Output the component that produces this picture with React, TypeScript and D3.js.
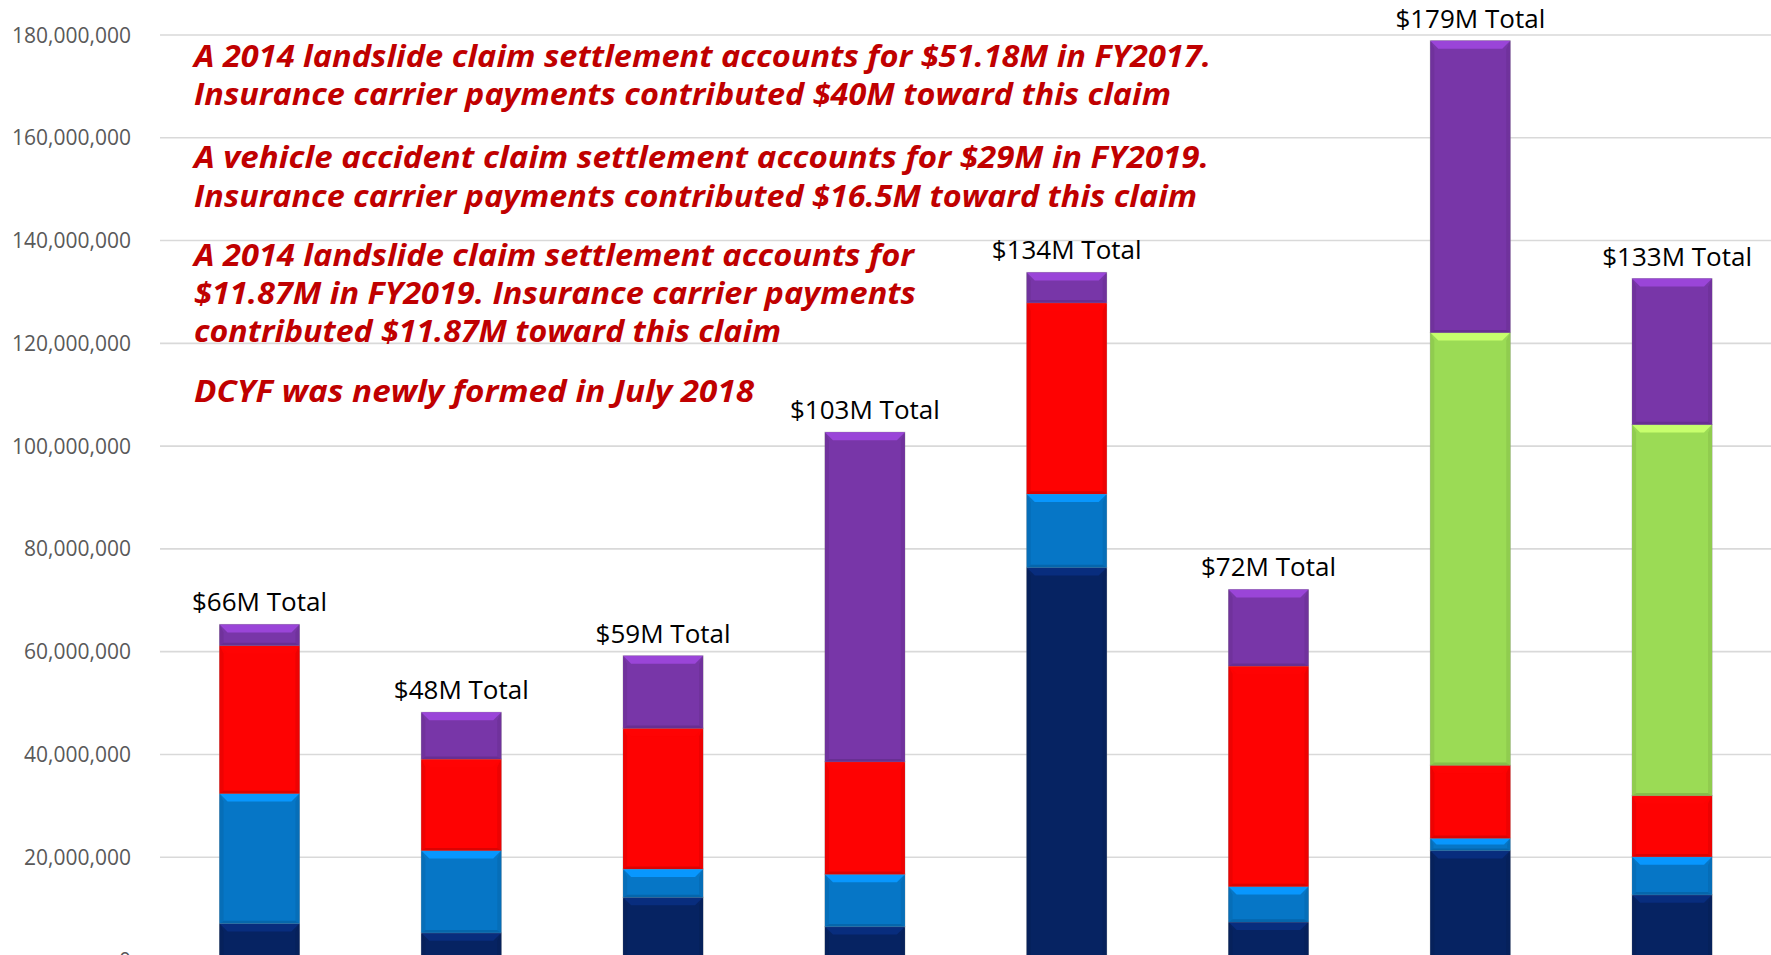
import React from "react";
import * as d3 from "d3";

const categories = ["FY2013", "FY2014", "FY2015", "FY2016", "FY2017", "FY2018", "FY2019", "FY2020"];
const seriesKeys = ["s1", "s2", "s3", "s4", "s5"];
const seriesColors = ["#062362", "#0676C6", "#FE0202", "#9BDB55", "#7836A8"];
// values in millions of dollars, stacked bottom to top
const s1Values = [7.1, 5.3, 12.2, 6.5, 76.4, 7.4, 21.3, 12.7];
const s2Values = [25.3, 16.0, 5.5, 10.2, 14.3, 6.9, 2.4, 7.4];
const s3Values = [28.8, 17.8, 27.4, 21.9, 37.2, 42.9, 14.2, 11.9];
const s4Values = [0, 0, 0, 0, 0, 0, 84.2, 72.2];
const s5Values = [4.1, 9.1, 14.1, 64.1, 5.9, 14.9, 56.8, 28.4];
const totalLabels = ["$66M Total", "$48M Total", "$59M Total", "$103M Total", "$134M Total", "$72M Total", "$179M Total", "$133M Total"];
const yTicks = [0, 20e6, 40e6, 60e6, 80e6, 100e6, 120e6, 140e6, 160e6, 180e6];
const noteLines = [
  "A 2014 landslide claim settlement accounts for $51.18M in FY2017.",
  "Insurance carrier payments contributed $40M toward this claim",
  "A vehicle accident claim settlement accounts for $29M in FY2019.",
  "Insurance carrier payments contributed $16.5M toward this claim",
  "A 2014 landslide claim settlement accounts for",
  "$11.87M in FY2019. Insurance carrier payments",
  "contributed $11.87M toward this claim",
  "DCYF was newly formed in July 2018",
];
const noteBaselines = [67, 105, 168, 207, 266, 304, 342, 402];
const noteWidths = [1017, 977, 1015, 1003, 720, 722, 587, 560];

const W = 1771;
const H = 955;

export default function App() {
  const rows = categories.map((c, i) => ({
    cat: c,
    s1: s1Values[i] * 1e6,
    s2: s2Values[i] * 1e6,
    s3: s3Values[i] * 1e6,
    s4: s4Values[i] * 1e6,
    s5: s5Values[i] * 1e6,
  }));
  const stacked = d3.stack<any>().keys(seriesKeys)(rows);

  const x = d3.scaleBand().domain(categories).range([158.6, 1773]).paddingInner(0.604).paddingOuter(0.302);
  const y = d3.scaleLinear().domain([0, 180e6]).range([960, 35]);
  const fmt = d3.format(",");

  const segs: any[] = [];
  stacked.forEach((layer, li) => {
    layer.forEach((d, i) => {
      const v = d[1] - d[0];
      if (v <= 0) return;
      segs.push({ li, i, x0: x(categories[i])!, w: x.bandwidth(), y0: y(d[1]), y1: y(d[0]), color: seriesColors[li] });
    });
  });

  const totals = categories.map((c, i) => s1Values[i] + s2Values[i] + s3Values[i] + s4Values[i] + s5Values[i]);

  return (
    <svg width={W} height={H} style={{ position: "absolute", left: 0, top: 0, background: "#fff" }}>
      <rect x={0} y={0} width={W} height={H} fill="#fff" />
      {yTicks.map((t) => (
        <g key={t}>
          <line x1={160} x2={W} y1={y(t)} y2={y(t)} stroke="#d9d9d9" strokeWidth={1.6} />
          <text x={131} y={y(t)} dy="0.36em" textAnchor="end" fontFamily="'Open Sans', sans-serif" fontSize={21} fill="#595959">
            {fmt(t)}
          </text>
        </g>
      ))}
      {segs.map((s, k) => {
        const { x0, w, y0, y1, color } = s;
        const h = y1 - y0;
        const b = Math.min(8, h / 2);
        const x1 = x0 + w;
        const light = d3.color(color)!.brighter(0.7).formatHex();
        const dark = d3.color(color)!.darker(0.4).formatHex();
        const side = d3.color(color)!.darker(0.2).formatHex();
        return (
          <g key={k}>
            <rect x={x0} y={y0} width={w} height={h} fill={color} stroke="#8a8a8a" strokeOpacity={0.5} strokeWidth={1} />
            <polygon points={`${x0},${y0} ${x1},${y0} ${x1 - b},${y0 + b} ${x0 + b},${y0 + b}`} fill={light} />
            <polygon points={`${x0},${y0} ${x0 + b / 2},${y0 + b} ${x0 + b / 2},${y1 - b / 3} ${x0},${y1}`} fill={side} />
            <polygon points={`${x1},${y0} ${x1 - b / 2},${y0 + b} ${x1 - b / 2},${y1 - b / 3} ${x1},${y1}`} fill={side} />
            <polygon points={`${x0},${y1} ${x1},${y1} ${x1 - b / 2},${y1 - b / 3} ${x0 + b / 2},${y1 - b / 3}`} fill={dark} />
          </g>
        );
      })}
      {categories.map((c, i) => (
        <text key={c} x={x(c)! + x.bandwidth() / 2 + (i === 7 ? 5 : 0)} y={y(totals[i] * 1e6) - 13} textAnchor="middle" fontFamily="'Open Sans', sans-serif" fontSize={26} fill="#000">
          {totalLabels[i]}
        </text>
      ))}
      {noteLines.map((t, i) => (
        <text key={i} x={194} y={noteBaselines[i]} fontFamily="'Open Sans', sans-serif" fontStyle="italic" fontWeight="bold" fontSize={30} fill="#C00000" textLength={noteWidths[i]} lengthAdjust="spacingAndGlyphs">
          {t}
        </text>
      ))}
    </svg>
  );
}
